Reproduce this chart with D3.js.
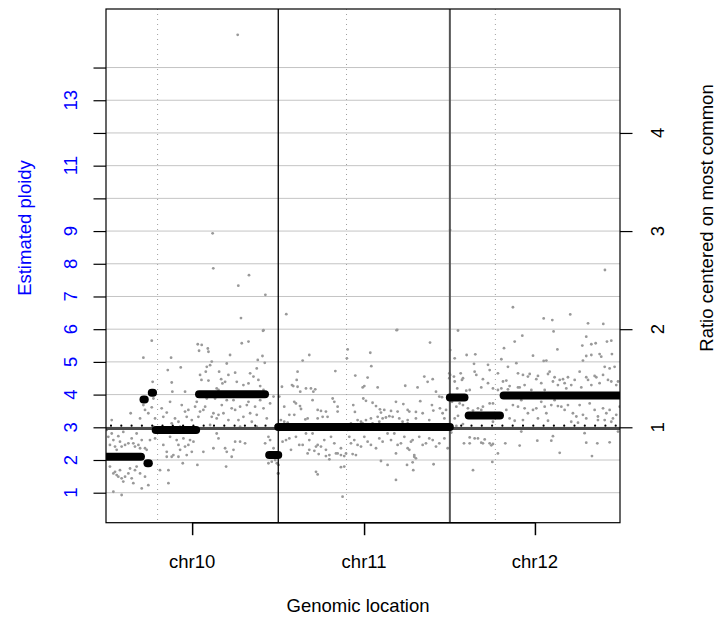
<!DOCTYPE html>
<html>
<head>
<meta charset="utf-8">
<script src="https://cdn.jsdelivr.net/npm/d3@7"></script>
<style>
  body { margin: 0; background: #fff; }
  svg text { font-family: "Liberation Sans", Arial, sans-serif; }
</style>
</head>
<body>
<svg id="chart" width="718" height="622"></svg>
<script>

/*
 * Copy number plot: estimated ploidy along chr10-chr12.
 */

// Chromosomes, lengths and centromere positions (Mb).
var chroms = ['chr10', 'chr11', 'chr12'];
var chromLengths = [135.53, 135.01, 133.85];
var centromeres = [40.6, 53.7, 35.8];

// Axis ticks.
var ploidyTicks = [1, 2, 3, 4, 5, 6, 7, 8, 9, 10, 11, 12, 13, 14];
var ploidyLabels = [1, 2, 3, 4, 5, 6, 7, 8, 9, 11, 13];
var ratioTicks = [1, 2, 3, 4];

// Reference levels.
var commonPloidy = 2.96;
var dottedPloidy = 3.05;

// Bin estimates [Mb, ploidy] per chromosome.
var chr10Points = [
  [36.0,5.65],[29.4,5.13],[51.2,5.13],[72.2,5.54],[75.3,5.52],[73.2,5.34],[80.1,5.41],[80.6,5.31],
  [106.8,5.57],[112.1,5.62],[123.9,5.97],[123.1,5.18],[119.4,5.06],[124.9,4.97],[97.6,5.21],
  [48.6,4.75],[58.8,4.83],[36.7,4.39],[51.7,4.37],[52.2,4.09],[62.2,4.09],[74.0,4.60],[75.1,4.45],
  [79.3,4.85],[81.9,4.90],[83.2,5.01],[78.5,4.70],[80.6,4.43],[90.6,4.47],[89.0,4.70],[91.6,4.34],
  [93.7,4.39],[96.3,4.60],[95.0,4.95],[101.6,4.67],[102.9,4.39],[108.1,4.29],[112.1,4.34],[113.4,4.65],
  [116.0,4.55],[118.6,4.80],[119.9,4.45],[121.3,4.26],[123.9,4.14],[88.5,4.14],[87.1,4.19],
  [4.5,3.22],[19.4,3.43],[26.8,3.27],[29.4,3.68],[30.7,3.53],[33.3,3.43],[36.0,3.61],[37.3,3.88],
  [38.6,3.27],[43.8,3.58],[45.1,3.32],[47.8,3.45],[50.4,3.78],[51.7,3.12],[54.3,3.27],[57.0,3.17],
  [59.6,3.68],[62.2,3.48],[63.5,3.32],[64.8,3.53],[67.5,3.22],[70.1,3.63],[71.4,3.78],[72.7,3.32],
  [74.0,3.48],[75.3,3.94],[76.6,3.53],[78.0,3.63],[79.3,3.88],[83.2,3.32],[84.5,3.43],[85.8,3.88],
  [87.1,3.27],[88.5,3.38],[91.1,3.68],[92.4,3.43],[95.0,3.83],[96.3,3.22],[98.9,3.58],[100.3,3.83],
  [101.6,3.53],[104.2,3.22],[105.5,3.63],[108.1,3.32],[110.8,3.68],[112.1,3.78],[113.4,3.43],[114.7,3.17],
  [117.3,3.63],[118.6,3.38],[121.3,3.83],[123.9,3.58],[126.5,3.27],[129.1,3.73],[131.8,3.94],
  [1.8,2.71],[5.8,2.61],[9.7,2.73],[12.3,2.41],[15.0,2.46],[17.6,2.51],[20.2,2.66],[22.8,2.41],
  [25.5,2.46],[28.1,2.61],[30.7,2.36],[3.1,2.46],[7.1,2.41],[8.4,2.31],[11.0,2.56],[21.5,2.51],
  [26.8,2.36],[32.0,2.31],[34.6,2.61],[38.6,2.66],[45.1,2.46],[47.8,2.25],[50.4,2.71],[51.7,2.10],
  [55.6,2.61],[57.0,2.46],[58.3,2.31],[60.9,2.66],[62.2,2.41],[63.5,2.15],[64.8,2.46],[66.1,2.61],
  [67.5,2.25],[68.8,2.56],[57.0,2.10],[53.0,2.15],[47.8,2.10],[76.6,2.25],[84.5,2.36],[87.1,2.81],
  [88.5,2.66],[93.7,2.36],[95.0,2.25],[98.9,2.10],[100.3,2.31],[101.6,2.56],[105.5,2.56],[109.4,2.51],
  [125.2,2.51],[127.8,2.71],[129.1,2.61],[131.8,2.36],[133.1,2.00],[134.4,1.90],[130.4,1.95],[127.8,1.90],
  [3.1,1.80],[5.8,1.59],[7.1,1.64],[8.4,1.54],[11.0,1.69],[12.3,1.44],[13.6,1.34],[15.0,1.49],
  [17.6,1.59],[18.9,1.74],[20.2,1.44],[21.5,1.29],[22.8,1.69],[24.1,1.80],[26.8,1.59],[28.1,1.13],
  [30.7,1.49],[33.3,1.23],[9.7,1.49],[5.8,1.03],[12.3,0.93],[42.5,1.69],[49.1,1.29],[49.1,1.69],
  [60.4,1.90],[71.9,1.85],[94.5,1.80],[135.3,1.59],
  [0.5,2.92],[4.5,2.81],[13.6,2.86],[24.1,2.81],[37.3,3.02],[58.3,3.02],[81.9,3.07],[105.5,3.02],[118.6,3.02],
  [103.6,15.0],[83.9,8.93],[84.4,7.86],[112.5,7.65],[104.1,7.33],[125.4,7.05],[106.2,6.34],[123.5,5.95]
];

var chr11Points = [
  [93.1,5.97],[119.4,5.59],[54.6,5.38],[72.4,5.28],[24.4,5.21],[19.2,5.04],[54.0,5.11],[73.2,4.87],
  [44.9,4.72],[15.2,4.70],[60.6,4.58],[70.3,4.52],[114.9,4.55],[117.5,4.39],[121.5,4.47],[10.8,4.29],
  [11.8,4.26],[2.9,4.24],[14.5,4.45],[15.2,4.24],[21.8,4.19],[25.7,4.19],[29.1,4.16],[27.6,4.09],
  [17.3,4.09],[78.2,4.22],[99.9,4.27],[109.6,4.22],[67.7,4.26],[66.4,4.22],[134.6,4.65],[134.6,4.50],
  [0.8,3.94],[12.6,3.78],[13.9,3.73],[17.1,3.65],[17.9,3.56],[27.0,3.83],[31.0,3.53],[33.6,3.50],
  [37.5,3.48],[38.8,3.32],[42.8,3.88],[44.1,3.78],[46.7,3.63],[46.7,3.48],[31.0,3.27],[34.9,3.32],
  [23.1,3.27],[21.3,3.24],[8.7,3.38],[12.6,3.38],[4.7,3.63],[2.1,3.22],[7.4,3.14],[4.7,3.17],
  [59.0,3.68],[60.3,3.47],[66.9,3.88],[69.0,3.81],[74.2,3.75],[76.9,3.65],[80.0,3.55],[80.8,3.45],
  [83.4,3.53],[84.7,3.30],[88.7,3.50],[92.6,3.78],[93.9,3.48],[98.4,3.71],[101.8,3.53],[103.1,3.48],
  [108.3,3.47],[111.7,3.80],[113.6,3.43],[120.9,3.68],[122.0,3.51],[124.1,4.09],[126.7,3.94],[128.8,3.92],
  [127.2,3.58],[129.3,3.43],[130.7,3.27],[132.0,3.53],[118.8,3.22],[108.3,3.27],[101.8,3.22],[95.2,3.27],
  [90.0,3.32],[87.4,3.34],[82.1,3.27],[78.2,3.32],[72.9,3.27],[69.0,3.22],[65.1,3.17],[62.4,3.22],
  [57.2,3.12],[66.4,3.12],[74.2,3.12],[79.5,3.17],[97.8,3.17],[101.8,3.12],
  [0.8,2.92],[3.4,2.56],[6.1,2.61],[8.7,2.66],[10.0,2.31],[13.9,2.71],[16.5,2.46],[19.2,2.46],
  [21.8,2.81],[24.4,2.61],[27.0,2.81],[29.7,2.41],[31.0,2.46],[33.6,2.41],[36.2,2.61],[37.5,2.31],
  [41.5,2.71],[40.2,2.15],[44.1,2.51],[45.4,2.20],[49.3,2.15],[51.9,2.12],[54.6,2.92],[55.9,2.71],
  [57.2,2.51],[59.8,2.61],[62.4,2.46],[65.1,2.41],[67.7,2.71],[70.3,2.56],[72.9,2.46],[76.9,2.36],
  [79.5,2.66],[82.1,2.56],[86.0,2.81],[88.7,2.61],[91.3,2.81],[93.9,2.46],[96.5,2.51],[99.2,2.71],
  [101.8,2.36],[104.4,2.56],[105.7,2.61],[107.0,2.15],[108.3,2.05],[110.9,2.71],[113.6,2.46],[116.2,2.51],
  [118.8,2.66],[121.5,2.61],[124.1,2.41],[126.7,2.51],[130.7,2.66],[133.3,2.36],[107.0,2.10],[103.1,2.31],
  [92.6,2.20],[61.1,2.15],[58.5,2.18],[53.3,2.20],[46.7,2.20],[40.2,2.02],[37.5,2.12],[31.8,2.18],
  [28.4,2.28],[23.1,2.20],[24.4,2.31],[49.3,2.36],
  [0.2,1.85],[0.2,1.59],[29.7,1.64],[31.0,1.56],[49.3,1.78],[51.9,1.80],[80.8,1.97],[86.0,1.85],
  [92.6,1.39],[101.3,1.85],[105.7,1.93],[106.2,1.69],[122.2,1.87],[50.6,0.88],
  [6.3,6.46],[93.6,5.98]
];

var chr12Points = [
  [49.6,6.67],[73.8,6.33],[80.6,6.28],[94.7,6.45],[108.7,6.18],[120.7,6.16],[81.6,5.93],[57.0,5.80],
  [6.4,5.96],[51.0,5.62],[42.6,5.42],[107.3,5.77],[104.2,5.50],[111.3,5.54],[114.7,5.57],[123.6,5.62],
  [127.0,5.65],[84.6,5.38],[65.4,5.19],[13.2,5.21],[20.0,5.23],[3.8,5.11],[40.5,5.08],[75.9,5.04],
  [73.8,5.03],[104.7,5.04],[107.3,5.18],[111.3,5.21],[117.8,5.24],[119.1,5.16],[127.5,5.24],[121.8,4.85],
  [125.7,4.80],[129.6,4.85],[132.3,4.40],[19.0,4.94],[30.0,4.91],[31.3,4.75],[45.7,4.85],[52.3,4.96],
  [0.3,5.36],
  [8.5,4.65],[9.5,4.45],[10.3,4.50],[19.5,4.70],[20.8,4.60],[26.0,4.47],[24.7,4.22],[30.0,4.35],
  [37.8,4.65],[41.8,4.40],[44.4,4.43],[45.7,4.16],[47.0,4.26],[53.6,4.65],[53.6,4.22],[54.9,4.22],
  [57.5,4.60],[58.8,4.29],[61.4,4.55],[62.8,4.63],[64.1,4.14],[68.0,4.47],[69.3,4.57],[71.9,4.35],
  [74.6,4.14],[77.2,4.63],[78.5,4.70],[81.1,4.40],[82.4,4.53],[85.0,4.29],[86.4,4.45],[89.0,4.47],
  [90.3,4.35],[91.6,4.19],[92.9,4.53],[95.5,4.29],[98.2,4.45],[102.1,4.70],[103.4,4.22],[107.3,4.53],
  [108.7,4.45],[111.3,4.29],[113.9,4.57],[115.2,4.53],[117.8,4.35],[120.5,4.60],[124.4,4.45],[127.0,4.40],
  [130.9,4.29],[3.8,4.40],[15.6,4.14],[12.9,4.12],[5.8,4.19],[3.2,4.55],[0.2,4.60],[37.8,4.14],
  [33.9,4.19],[40.5,4.19],
  [1.7,3.78],[5.1,3.63],[7.7,3.73],[10.3,3.68],[14.2,3.58],[18.2,3.51],[22.1,3.58],[24.7,3.53],
  [26.0,3.63],[31.3,3.73],[33.9,3.73],[35.2,3.43],[44.4,3.53],[49.6,3.68],[53.6,3.63],[56.2,3.83],
  [58.8,3.58],[61.4,3.43],[65.4,3.53],[68.0,3.58],[71.9,3.78],[74.6,3.63],[75.9,3.43],[79.8,3.68],
  [82.4,3.83],[85.0,3.65],[87.7,3.63],[90.3,3.53],[92.9,3.68],[96.8,3.43],[99.5,3.33],[102.1,3.68],
  [104.7,3.38],[107.3,3.27],[110.0,3.73],[113.9,3.53],[116.5,3.33],[120.5,3.58],[123.1,3.43],[125.7,3.53],
  [128.3,3.27],[130.9,3.38],[133.6,3.63],[12.9,3.38],[6.4,3.35],[3.8,3.27],[47.0,3.27],[51.0,3.20],
  [57.5,3.22],[69.3,3.27],[77.2,3.20],[95.5,3.17],[100.8,3.14],[116.5,3.22],[121.8,3.22],[127.0,3.17],
  [33.9,3.17],[10.3,3.10],[5.1,3.04],
  [1.1,2.84],[11.1,2.51],[15.6,2.51],[15.6,2.69],[19.5,2.66],[22.1,2.66],[24.7,2.53],[26.0,2.51],
  [27.4,2.63],[31.3,2.51],[32.6,2.45],[33.9,2.49],[37.8,2.20],[33.4,1.94],[43.6,2.51],[54.9,2.44],
  [56.2,2.87],[68.8,2.59],[79.8,2.59],[81.1,2.73],[86.4,2.22],[106.0,2.82],[107.3,2.53],[111.8,2.12],
  [116.0,2.51],[125.7,2.54],[132.3,2.87],[18.2,1.69],
  [0.2,9.03],[122.0,7.81]
];

var pointSets = [chr10Points, chr11Points, chr12Points];

// Segments [start Mb, end Mb, ploidy] per chromosome.
var chr10Segments = [[0, 27.5, 2.10], [32.6, 33.7, 1.90], [29.5, 30.5, 3.85], [36.0, 37.0, 4.06],
  [39.1, 70.9, 2.92], [73.2, 125.1, 4.01], [128.4, 135.5, 2.15]];
var chr11Segments = [[0, 135.0, 3.01]];
var chr12Segments = [[0, 11.5, 3.91], [14.8, 39.4, 3.36], [42.3, 133.85, 3.97]];

var segmentSets = [chr10Segments, chr11Segments, chr12Segments];

// Layout.
var width = 718, height = 622;
var margin = { top: 9, right: 98, bottom: 99.3, left: 106 };
var plotW = width - margin.left - margin.right;
var plotH = height - margin.top - margin.bottom;
var fontSize = 18.5;

var svg = d3.select('#chart');

// Chromosome offsets on the genome axis.
var offsets = [];
var acc = 0;
chromLengths.forEach(function(len) { offsets.push(acc); acc += len; });

// Scales.
var x = d3.scaleLinear().domain([0, acc]).range([margin.left, margin.left + plotW]);
var y = d3.scaleLinear().domain([0.083, 15.79]).range([margin.top + plotH, margin.top]);
var yRatio = d3.scaleLinear().domain([0.083 / 3, 15.79 / 3]).range([margin.top + plotH, margin.top]);

// Clip region.
svg.append('clipPath').attr('id', 'plot-clip')
  .append('rect')
  .attr('x', margin.left).attr('y', margin.top)
  .attr('width', plotW).attr('height', plotH);

var plot = svg.append('g').attr('clip-path', 'url(#plot-clip)');

// Horizontal grid lines.
plot.selectAll('line.grid').data(ploidyTicks).enter().append('line')
  .attr('class', 'grid')
  .attr('x1', margin.left).attr('x2', margin.left + plotW)
  .attr('y1', function(d) { return y(d); })
  .attr('y2', function(d) { return y(d); })
  .attr('stroke', '#c4c4c4').attr('stroke-width', 1);

// Centromere lines.
plot.selectAll('line.cen').data(centromeres).enter().append('line')
  .attr('x1', function(d, i) { return x(offsets[i] + d); })
  .attr('x2', function(d, i) { return x(offsets[i] + d); })
  .attr('y1', margin.top).attr('y2', margin.top + plotH)
  .attr('stroke', '#a0a0a0').attr('stroke-width', 1)
  .attr('stroke-dasharray', '1,4');

// Points.
pointSets.forEach(function(points, i) {
  plot.append('g').selectAll('circle').data(points).enter().append('circle')
    .attr('cx', function(d) { return x(offsets[i] + d[0]); })
    .attr('cy', function(d) { return y(d[1]); })
    .attr('r', 1.4)
    .attr('fill', '#999999');
});

// Most common level.
plot.append('line')
  .attr('x1', margin.left).attr('x2', margin.left + plotW)
  .attr('y1', y(commonPloidy)).attr('y2', y(commonPloidy))
  .attr('stroke', '#4a4a4a').attr('stroke-width', 3);

plot.append('line')
  .attr('x1', margin.left + 5).attr('x2', margin.left + plotW)
  .attr('y1', y(dottedPloidy)).attr('y2', y(dottedPloidy))
  .attr('stroke', '#000').attr('stroke-width', 2.2)
  .attr('stroke-linecap', 'round')
  .attr('stroke-dasharray', '0,10.3');

// Chromosome boundaries.
offsets.slice(1).forEach(function(o, i) {
  plot.append('line')
    .attr('x1', x(o)).attr('x2', x(o))
    .attr('y1', margin.top).attr('y2', margin.top + plotH)
    .attr('stroke', i === 0 ? '#000' : '#555')
    .attr('stroke-width', i === 0 ? 1.3 : 2);
});

// Segments.
segmentSets.forEach(function(segs, i) {
  plot.append('g').selectAll('line').data(segs).enter().append('line')
    .attr('x1', function(d) { return x(offsets[i] + d[0]); })
    .attr('x2', function(d) { return x(offsets[i] + d[1]); })
    .attr('y1', function(d) { return y(d[2]); })
    .attr('y2', function(d) { return y(d[2]); })
    .attr('stroke', '#000').attr('stroke-width', 8)
    .attr('stroke-linecap', 'round');
});

// Box.
svg.append('rect')
  .attr('x', margin.left).attr('y', margin.top)
  .attr('width', plotW).attr('height', plotH)
  .attr('fill', 'none').attr('stroke', '#000').attr('stroke-width', 1.2);

// Left axis.
var left = svg.append('g')
  .attr('transform', 'translate(' + margin.left + ',0)')
  .call(d3.axisLeft(y).tickValues(ploidyTicks).tickSize(12.5).tickFormat(''));
left.select('.domain').remove();
left.selectAll('line').attr('stroke', '#000').attr('stroke-width', 1.2);

svg.append('g').selectAll('text').data(ploidyLabels).enter().append('text')
  .attr('transform', function(d) { return 'translate(76.5,' + y(d) + ') rotate(-90)'; })
  .attr('text-anchor', 'middle')
  .attr('font-size', fontSize)
  .attr('fill', '#0000ff')
  .text(function(d) { return d; });

// Right axis.
var right = svg.append('g')
  .attr('transform', 'translate(' + (margin.left + plotW) + ',0)')
  .call(d3.axisRight(yRatio).tickValues(ratioTicks).tickSize(12.5).tickFormat(''));
right.select('.domain').remove();
right.selectAll('line').attr('stroke', '#000').attr('stroke-width', 1.2);

svg.append('g').selectAll('text').data(ratioTicks).enter().append('text')
  .attr('transform', function(d) { return 'translate(663.5,' + yRatio(d) + ') rotate(-90)'; })
  .attr('text-anchor', 'middle')
  .attr('font-size', fontSize)
  .attr('fill', '#000')
  .text(function(d) { return d; });

// Bottom axis at chromosome midpoints.
var mids = chroms.map(function(c, i) { return offsets[i] + chromLengths[i] / 2; });
var bottom = svg.append('g')
  .attr('transform', 'translate(0,' + (margin.top + plotH) + ')')
  .call(d3.axisBottom(x).tickValues(mids).tickSize(12.5).tickFormat(''));
bottom.select('.domain').remove();
bottom.selectAll('line').attr('stroke', '#000').attr('stroke-width', 1.5);

bottom.append('line')
  .attr('x1', x(mids[0])).attr('x2', x(mids[2]))
  .attr('stroke', '#000').attr('stroke-width', 1.5);

svg.append('g').selectAll('text').data(chroms).enter().append('text')
  .attr('x', function(d, i) { return x(mids[i]); })
  .attr('y', 568)
  .attr('text-anchor', 'middle')
  .attr('font-size', fontSize)
  .attr('fill', '#000')
  .text(function(d) { return d; });

// Axis titles.
svg.append('text')
  .attr('x', 358).attr('y', 612)
  .attr('text-anchor', 'middle')
  .attr('font-size', fontSize)
  .text('Genomic location');

svg.append('text')
  .attr('transform', 'translate(31,228) rotate(-90)')
  .attr('text-anchor', 'middle')
  .attr('font-size', fontSize)
  .attr('fill', '#0000ff')
  .text('Estimated ploidy');

svg.append('text')
  .attr('transform', 'translate(713,218) rotate(-90)')
  .attr('text-anchor', 'middle')
  .attr('font-size', fontSize)
  .text('Ratio centered on most common');

</script>
</body>
</html>
